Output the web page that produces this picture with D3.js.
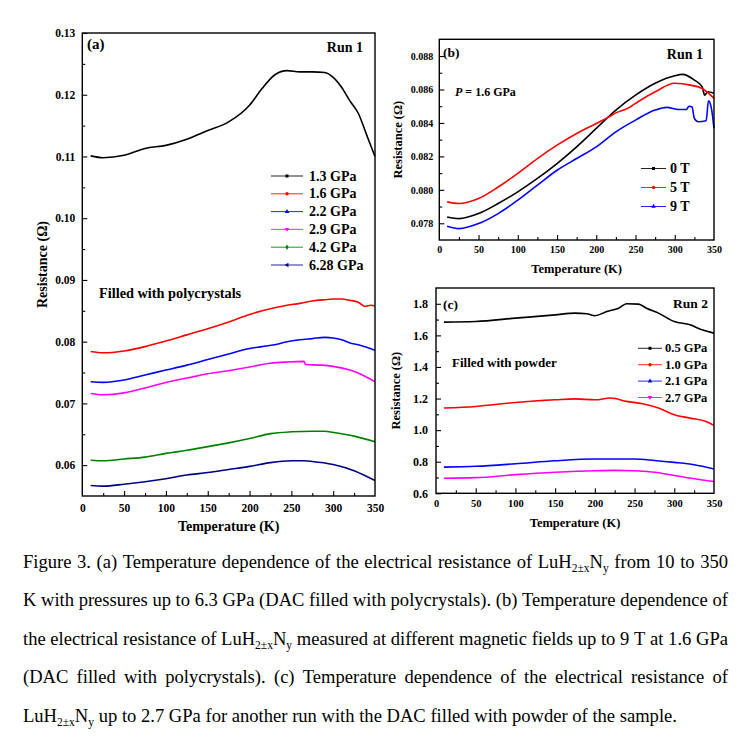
<!DOCTYPE html>
<html><head><meta charset="utf-8">
<script src="https://cdn.jsdelivr.net/npm/d3@7"></script>
<style>
body{margin:0;background:#fff;}
svg{display:block;}
text{font-family:"Liberation Serif","Times New Roman",serif;}
</style>
</head><body>
<svg id="fig" width="753" height="749"></svg>
<script>
// ---------------- DATA ----------------
const tempTicks = [0, 50, 100, 150, 200, 250, 300, 350];
const tempMinor = [25, 75, 125, 175, 225, 275, 325];

// Panel (a): Run 1, different pressures  [T (K), R (Ohm)]
const aTicks = [0.06, 0.07, 0.08, 0.09, 0.10, 0.11, 0.12, 0.13];
const aMinor = [0.055, 0.065, 0.075, 0.085, 0.095, 0.105, 0.115, 0.125];
const aLabels = ["1.3 GPa", "1.6 GPa", "2.2 GPa", "2.9 GPa", "4.2 GPa", "6.28 GPa"];
const a13 = [[10,.1101],[25,.1098],[50,.1102],[75,.1113],[100,.1118],[125,.1128],[150,.1142],[175,.1156],[200,.1183],[215,.1210],[230,.1232],[245,.1239],[260,.1237],[275,.1237],[290,.1236],[300,.1228],[310,.1212],[320,.1190],[330,.1170],[340,.1135],[350,.1100]];
const a16 = [[10,.0784],[25,.0782],[50,.0785],[75,.0792],[100,.0801],[125,.0811],[150,.0821],[175,.0832],[200,.0844],[215,.0850],[230,.0855],[245,.0859],[260,.0862],[275,.0866],[290,.0868],[300,.0869],[310,.0869],[320,.0867],[330,.0864],[338,.0857],[345,.0859],[350,.0858]];
const a22 = [[10,.0735],[25,.0734],[50,.0738],[75,.0746],[100,.0754],[125,.0762],[150,.0771],[175,.0780],[200,.0789],[215,.0792],[230,.0795],[245,.0800],[260,.0803],[275,.0805],[290,.0807],[300,.0806],[310,.0803],[320,.0798],[330,.0795],[340,.0791],[350,.0786]];
const a29 = [[10,.0716],[25,.0714],[50,.0717],[75,.0725],[100,.0734],[125,.0741],[150,.0748],[175,.0753],[200,.0759],[225,.0765],[245,.0767],[265,.0768],[267,.0763],[285,.0762],[300,.0760],[320,.0754],[335,.0746],[350,.0735]];
const a42 = [[10,.0608],[25,.0607],[50,.0610],[75,.0613],[100,.0619],[125,.0624],[150,.0630],[175,.0636],[200,.0643],[225,.0651],[250,.0654],[275,.0655],[290,.0655],[300,.0653],[325,.0647],[350,.0638]];
const a628 = [[10,.0567],[25,.0566],[50,.0569],[75,.0573],[100,.0578],[125,.0584],[150,.0588],[175,.0593],[200,.0598],[225,.0604],[250,.0607],[265,.0607],[275,.0606],[300,.0601],[325,.0591],[350,.0575]];

// Panel (b): Run 1, P = 1.6 GPa, magnetic fields
const bTicks = [0.078, 0.080, 0.082, 0.084, 0.086, 0.088];
const bMinor = [0.077, 0.079, 0.081, 0.083, 0.085, 0.087, 0.089];
const bLabels = ["0 T", "5 T", "9 T"];
const b0 = [[10,.07838],[25,.07828],[50,.07858],[75,.07918],[100,.07988],[125,.08068],[150,.08157],[175,.08257],[200,.08367],[225,.08477],[250,.08566],[275,.08637],[300,.08682],[310,.08690],[325,.08656],[335,.08616],[338,.08566],[342,.08586],[350,.08577]];
const b5 = [[10,.07928],[25,.07918],[50,.07948],[75,.08017],[100,.08098],[125,.08187],[150,.08267],[175,.08337],[200,.08397],[215,.08433],[225,.08460],[240,.08487],[250,.08517],[275,.08586],[300,.08637],[320,.08626],[335,.08606],[350,.08547]];
const b9 = [[10,.07782],[25,.07768],[50,.07798],[75,.07858],[100,.07938],[125,.08028],[150,.08117],[175,.08187],[200,.08257],[225,.08347],[250,.08417],[275,.08477],[290,.08493],[305,.08480],[315,.08480],[318,.08500],[322,.08495],[325,.08427],[330,.08407],[340,.08413],[343,.08532],[347,.08480],[350,.08367]];

// Panel (c): Run 2, filled with powder
const cTicks = [0.6, 0.8, 1.0, 1.2, 1.4, 1.6, 1.8];
const cMinor = [0.7, 0.9, 1.1, 1.3, 1.5, 1.7, 1.9];
const cLabels = ["0.5 GPa", "1.0 GPa", "2.1 GPa", "2.7 GPa"];
const c05 = [[10,1.684],[50,1.688],[100,1.709],[150,1.730],[175,1.741],[190,1.737],[200,1.724],[215,1.751],[230,1.772],[240,1.800],[255,1.798],[265,1.772],[280,1.741],[300,1.688],[320,1.667],[335,1.635],[350,1.614]];
const c10 = [[10,1.140],[50,1.150],[100,1.175],[150,1.192],[175,1.198],[200,1.192],[220,1.203],[240,1.182],[260,1.167],[280,1.140],[300,1.097],[320,1.076],[340,1.055],[350,1.030]];
const c21 = [[10,.766],[50,.771],[100,.787],[150,.806],[200,.817],[250,.817],[275,.808],[300,.796],[325,.781],[350,.754]];
const c27 = [[10,.695],[50,.699],[100,.718],[150,.733],[200,.743],[225,.745],[250,.743],[275,.733],[300,.713],[325,.692],[350,.675]];

const captionLines = [
  "Figure 3. (a) Temperature dependence of the electrical resistance of LuH2±xNy from 10 to 350",
  "K with pressures up to 6.3 GPa (DAC filled with polycrystals). (b) Temperature dependence of",
  "the electrical resistance of LuH2±xNy measured at different magnetic fields up to 9 T at 1.6 GPa",
  "(DAC filled with polycrystals). (c) Temperature dependence of the electrical resistance of",
  "LuH2±xNy up to 2.7 GPa for another run with the DAC filled with powder of the sample."
];

// ---------------- DRAWING ----------------
const svg = d3.select("#fig");
svg.append("rect").attr("width",753).attr("height",749).attr("fill","#fff");

const symDown = { draw(ctx, size){ const s=Math.sqrt(size)*0.8; ctx.moveTo(0,s); ctx.lineTo(s*0.9,-s*0.6); ctx.lineTo(-s*0.9,-s*0.6); ctx.closePath(); } };
const symLeft = { draw(ctx, size){ const s=Math.sqrt(size)*0.8; ctx.moveTo(-s,0); ctx.lineTo(s*0.6,-s*0.9); ctx.lineTo(s*0.6,s*0.9); ctx.closePath(); } };

function panel(cfg){
  const g = svg.append("g");
  const x = d3.scaleLinear().domain([0,350]).range([cfg.l, cfg.r]);
  const y = d3.scaleLinear().domain(cfg.yDom).range([cfg.b, cfg.t]);

  // minor ticks
  g.append("g").attr("transform",`translate(0,${cfg.b})`)
    .call(d3.axisBottom(x).tickValues(tempMinor).tickSize(-3).tickSizeOuter(0).tickFormat(""));
  g.append("g").attr("transform",`translate(${cfg.l},0)`)
    .call(d3.axisLeft(y).tickValues(cfg.yMinor.filter(v=>v>cfg.yDom[0]&&v<cfg.yDom[1])).tickSize(-3).tickSizeOuter(0).tickFormat(""));
  // major ticks
  const gx = g.append("g").attr("transform",`translate(0,${cfg.b})`)
    .call(d3.axisBottom(x).tickValues(tempTicks).tickSize(-5).tickSizeOuter(0).tickFormat(d3.format("d")));
  gx.selectAll("text").attr("dy",null).attr("y",cfg.xLabOff)
    .attr("font-size",cfg.xFs).attr("font-weight","bold").attr("fill","#000");
  const gy = g.append("g").attr("transform",`translate(${cfg.l},0)`)
    .call(d3.axisLeft(y).tickValues(cfg.yTicks).tickSize(-5).tickSizeOuter(0).tickPadding(cfg.yPad).tickFormat(d3.format(cfg.yFmt)));
  gy.selectAll("text").attr("font-size",cfg.yFs).attr("font-weight","bold").attr("fill","#000");
  g.selectAll(".domain").remove();
  g.selectAll(".tick line").attr("stroke","#000").attr("stroke-width",1.1);
  g.selectAll(".tick").filter(d=>d===0||d===350).select("line").attr("opacity",0);

  // curves
  const line = d3.line().x(d=>x(d[0])).y(d=>y(d[1])).curve(d3.curveMonotoneX);
  cfg.series.forEach(s=>{
    g.append("path").datum(s.data).attr("d",line).attr("fill","none")
      .attr("stroke",s.color).attr("stroke-width",1.6).attr("stroke-linejoin","round");
  });

  // frame
  g.append("rect").attr("x",cfg.l).attr("y",cfg.t).attr("width",cfg.r-cfg.l).attr("height",cfg.b-cfg.t)
    .attr("fill","none").attr("stroke","#000").attr("stroke-width",1.4);

  // axis titles
  g.append("text").attr("x",(cfg.l+cfg.r)/2).attr("y",cfg.xTitleY).attr("text-anchor","middle")
    .attr("font-size",cfg.titleFs).attr("font-weight","bold").text("Temperature (K)");
  g.append("text").attr("transform",`translate(${cfg.yTitleX},${(cfg.t+cfg.b)/2}) rotate(-90)`)
    .attr("text-anchor","middle").attr("font-size",cfg.titleFs).attr("font-weight","bold").text("Resistance (Ω)");

  // legend
  const lg = cfg.legend;
  cfg.series.forEach((s,i)=>{
    const yy = lg.y0 + i*lg.dy;
    g.append("line").attr("x1",lg.x1).attr("x2",lg.x2).attr("y1",yy).attr("y2",yy)
      .attr("stroke",s.color).attr("stroke-width",1).attr("opacity",0.85);
    g.append("path").attr("d",d3.symbol().type(s.sym).size(9)())
      .attr("transform",`translate(${(lg.x1+lg.x2)/2},${yy})`).attr("fill",s.color);
    g.append("text").attr("x",lg.tx).attr("y",yy+lg.fs*0.33).attr("font-size",lg.fs)
      .attr("font-weight","bold").text(cfg.labels[i]);
  });
  return g;
}

const ga = panel({
  l:82.3, r:375, t:33, b:496, yDom:[0.055,0.13], yTicks:aTicks, yMinor:aMinor, yFmt:".2f",
  xLabOff:15.5, xFs:11.5, yFs:11.5, yPad:7, titleFs:14, xTitleY:531, yTitleX:47,
  labels:aLabels,
  series:[
    {data:a13, color:"#000000", sym:d3.symbolSquare},
    {data:a16, color:"#ff0000", sym:d3.symbolCircle},
    {data:a22, color:"#0000ff", sym:d3.symbolTriangle},
    {data:a29, color:"#ff00ff", sym:symDown},
    {data:a42, color:"#008000", sym:d3.symbolDiamond},
    {data:a628, color:"#000080", sym:symLeft}
  ],
  legend:{x1:271, x2:303, tx:309, y0:176, dy:17.8, fs:14}
});
ga.append("text").attr("x",87).attr("y",48.5).attr("font-size",15).attr("font-weight","bold").text("(a)");
ga.append("text").attr("x",363).attr("y",52).attr("text-anchor","end").attr("font-size",14).attr("font-weight","bold").text("Run 1");
ga.append("text").attr("x",99).attr("y",297.5).attr("font-size",14.3).attr("font-weight","bold").text("Filled with polycrystals");

const gb = panel({
  l:439.3, r:714, t:39.3, b:240, yDom:[0.077,0.089], yTicks:bTicks, yMinor:bMinor, yFmt:".3f",
  xLabOff:12.5, xFs:10, yFs:10, yPad:6, titleFs:12.5, xTitleY:273, yTitleX:402,
  labels:bLabels,
  series:[
    {data:b0, color:"#000000", sym:d3.symbolSquare},
    {data:b5, color:"#ff0000", sym:d3.symbolCircle},
    {data:b9, color:"#0000ff", sym:d3.symbolTriangle}
  ],
  legend:{x1:641, x2:666, tx:670, y0:168.5, dy:19, fs:14}
});
gb.append("text").attr("x",443).attr("y",57).attr("font-size",13.5).attr("font-weight","bold").text("(b)");
gb.append("text").attr("x",703).attr("y",59).attr("text-anchor","end").attr("font-size",14).attr("font-weight","bold").text("Run 1");
const pt = gb.append("text").attr("x",455).attr("y",96).attr("font-size",12).attr("font-weight","bold");
pt.append("tspan").attr("font-style","italic").text("P");
pt.append("tspan").text(" = 1.6 GPa");

const gc = panel({
  l:436, r:714, t:288, b:493.3, yDom:[0.6,1.9], yTicks:cTicks, yMinor:cMinor, yFmt:".1f",
  xLabOff:13.3, xFs:10.5, yFs:12, yPad:8, titleFs:12.5, xTitleY:527, yTitleX:400,
  labels:cLabels,
  series:[
    {data:c05, color:"#000000", sym:d3.symbolSquare},
    {data:c10, color:"#ff0000", sym:d3.symbolCircle},
    {data:c21, color:"#0000ff", sym:d3.symbolTriangle},
    {data:c27, color:"#ff00ff", sym:symDown}
  ],
  legend:{x1:638, x2:662, tx:665, y0:348.3, dy:16.4, fs:12.5}
});
gc.append("text").attr("x",443).attr("y",308.5).attr("font-size",13.5).attr("font-weight","bold").text("(c)");
gc.append("text").attr("x",708).attr("y",307.5).attr("text-anchor","end").attr("font-size",13.5).attr("font-weight","bold").text("Run 2");
gc.append("text").attr("x",452).attr("y",366.5).attr("font-size",13).attr("font-weight","bold").text("Filled with powder");

// ---------------- CAPTION (justified) ----------------
const capFs = 19, capX0 = 23, capX1 = 728, lastLineEnd = 677;
const capBase = [568, 606.5, 645, 683.5, 722];
const cap = svg.append("g");
const inner = cap.append("g");

function makeWord(parent, w){
  const t = parent.append("text").attr("font-size",capFs).attr("fill","#000");
  const m = w.match(/^(.*)LuH2±xNy(.*)$/);
  if(m){
    if(m[1]) t.append("tspan").text(m[1]);
    t.append("tspan").text("LuH");
    t.append("tspan").attr("font-size",capFs*0.62).attr("dy",4).text("2±x");
    t.append("tspan").attr("dy",-4).text("N");
    t.append("tspan").attr("font-size",capFs*0.62).attr("dy",4).text("y");
    if(m[2]) t.append("tspan").attr("dy",-4).text(m[2]);
  } else {
    t.text(w);
  }
  return t;
}
// measure space
const probe1 = inner.append("text").attr("font-size",capFs).text("a a");
const probe2 = inner.append("text").attr("font-size",capFs).text("aa");
const spaceW = probe1.node().getComputedTextLength() - probe2.node().getComputedTextLength();
probe1.remove(); probe2.remove();

const lineWords = captionLines.map((ln,i)=>{
  const words = ln.split(" ").map(w=>{
    const t = makeWord(inner, w).attr("y",capBase[i]);
    return {t, w:t.node().getComputedTextLength()};
  });
  return words;
});
const lastNat = d3.sum(lineWords[4], d=>d.w) + spaceW*(lineWords[4].length-1);
const sx = (lastLineEnd-capX0)/lastNat;
const availW = (capX1-capX0)/sx;
inner.attr("transform",`translate(${capX0},0) scale(${sx},1)`);
lineWords.forEach((words,i)=>{
  const tot = d3.sum(words,d=>d.w);
  const gap = (i<4) ? (availW - tot)/(words.length-1) : spaceW;
  let xx = 0;
  words.forEach(d=>{ d.t.attr("x",xx); xx += d.w + gap; });
});
</script>
</body></html>
